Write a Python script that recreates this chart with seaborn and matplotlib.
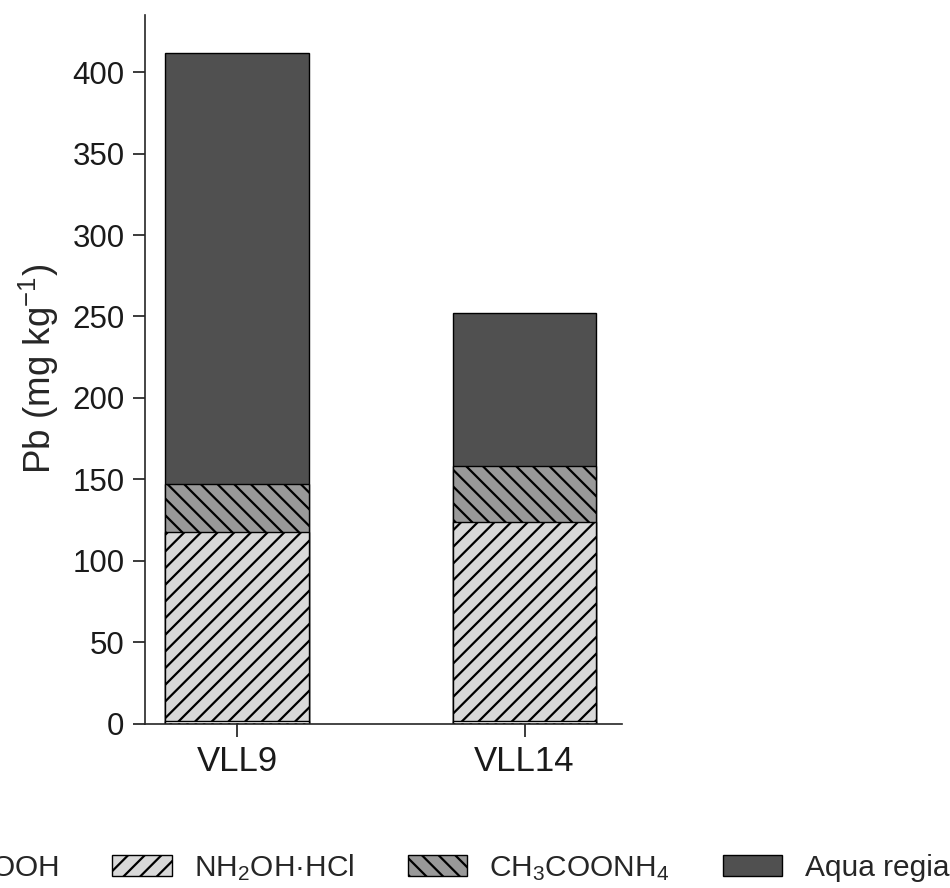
import matplotlib
matplotlib.use('Agg')
import matplotlib.pyplot as plt
import seaborn as sns
import numpy as np
import pandas as pd
from matplotlib.patches import Patch

# 데이터 (그림에서 읽은 값, mg/kg)
samples = ['VLL9', 'VLL14']
fractions = ['CH$_3$COOH', 'NH$_2$OH·HCl', 'CH$_3$COONH$_4$', 'Aqua regia']
ch3cooh = [1.5, 1.5]
nh2oh_hcl = [116.0, 122.5]
ch3coonh4 = [29.5, 34.0]
aqua_regia = [265.0, 94.0]

colors = ['#ffffff', '#d9d9d9', '#999999', '#505050']
hatches = ['..', '//', '\\\\', '']

sns.set_style('ticks')
plt.rcParams['font.family'] = ['Liberation Sans', 'DejaVu Sans']
plt.rcParams['mathtext.fontset'] = 'custom'
plt.rcParams['mathtext.rm'] = 'Liberation Sans'
plt.rcParams['mathtext.it'] = 'Liberation Sans:italic'
plt.rcParams['hatch.linewidth'] = 1.6

# 누적값
layers = np.array([ch3cooh, nh2oh_hcl, ch3coonh4, aqua_regia])
cum = np.cumsum(layers, axis=0)

fig = plt.figure(figsize=(9.5, 8.88), dpi=100)
ax = fig.add_axes([0.153, 0.185, 0.502, 0.798])

# 위에서부터 그려서 겹치게
for i in range(3, -1, -1):
    df = pd.DataFrame({'sample': samples, 'value': cum[i]})
    n_before = len(ax.patches)
    sns.barplot(data=df, x='sample', y='value', color=colors[i], saturation=1,
                width=0.5, edgecolor='black', linewidth=1.0, ax=ax)
    for p in ax.patches[n_before:]:
        p.set_hatch(hatches[i])

ax.set_xlim(-0.32, 1.34)
ax.set_ylim(0, 435)
ax.set_yticks(np.arange(0, 401, 50))
ax.set_xlabel('')
ax.set_ylabel('Pb (mg kg$^{-1}$)', fontsize=26.5, labelpad=8)
ax.tick_params(axis='both', labelsize=22.5, length=9, width=1.2, pad=6, colors='#1a1a1a')
ax.tick_params(axis='x', labelsize=25)
for s in ['left', 'bottom']:
    ax.spines[s].set_linewidth(1.2)
sns.despine(ax=ax)

handles = [Patch(facecolor=colors[i], edgecolor='black', hatch=hatches[i], label=fractions[i])
           for i in range(4)]
fig.legend(handles=handles, loc='center left', ncol=4, bbox_to_anchor=(-0.205, 0.023),
           frameon=False, handlelength=1.99, handleheight=0.73,
           columnspacing=1.78, handletextpad=0.75,
           prop={'family': ['Liberation Sans', 'DejaVu Sans'], 'size': 21.5})

fig.savefig('out.png', dpi=100)
